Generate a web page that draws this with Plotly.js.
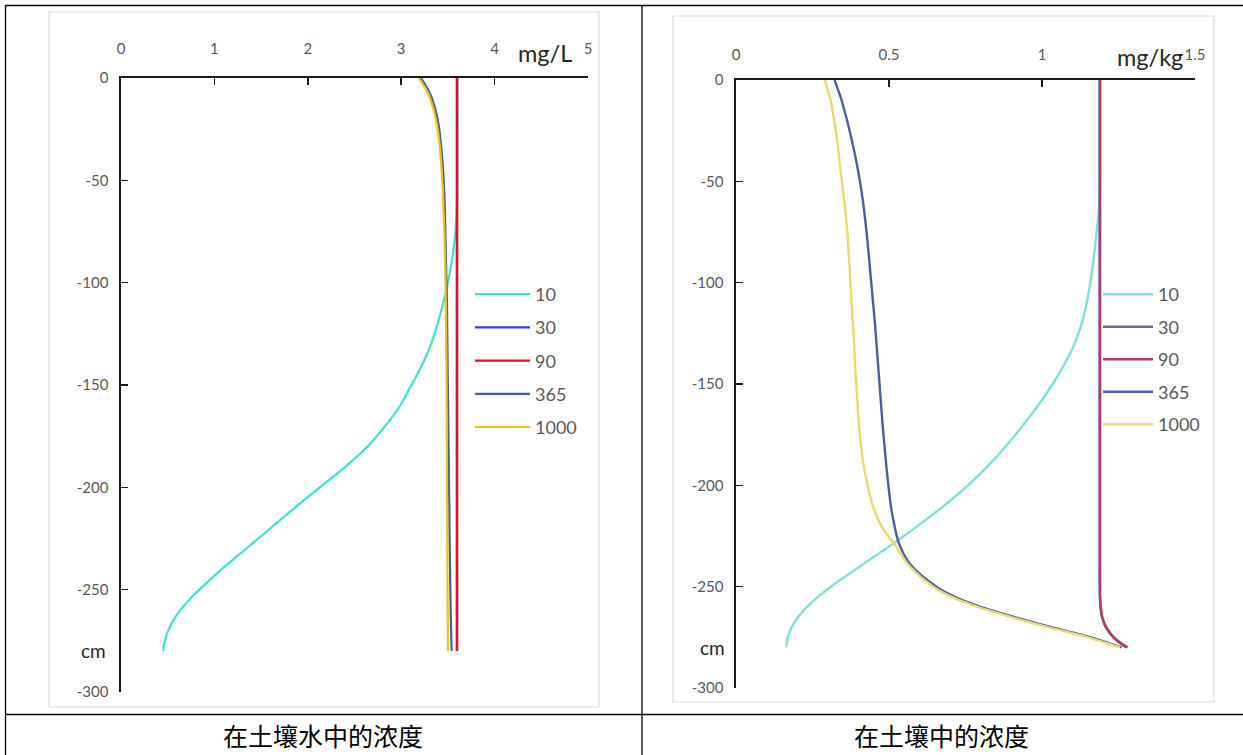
<!DOCTYPE html>
<html>
<head>
<meta charset="utf-8">
<script src="https://cdn.plot.ly/plotly-3.0.1.min.js"></script>
<style>html,body{margin:0;padding:0;background:#fff;}#chart{width:1243px;height:755px;}</style>
</head>
<body>
<div id="chart"></div>
<script>
// ---- data ----
const seriesNames = ["10", "30", "90", "365", "1000"];
const depth = [0, -5, -10, -20, -30, -40, -50, -60, -70, -80, -90, -100, -110, -120, -130, -140, -150,
  -160, -170, -180, -190, -200, -210, -220, -230, -240, -250, -255, -260, -265, -270, -275, -280];

// concentration in soil water (mg/L)
const water10 = [3.6, 3.6, 3.6, 3.6, 3.6, 3.6, 3.6, 3.6, 3.59, 3.57, 3.54, 3.50, 3.45, 3.39, 3.32, 3.225, 3.11,
  2.99, 2.83, 2.64, 2.40, 2.13, 1.86, 1.60, 1.34, 1.08, 0.84, 0.73, 0.635, 0.56, 0.505, 0.47, 0.45];
const water30 = [3.595, 3.595, 3.595, 3.595, 3.595, 3.595, 3.595, 3.595, 3.595, 3.595, 3.595, 3.595, 3.595, 3.595, 3.595, 3.595, 3.595,
  3.595, 3.595, 3.595, 3.595, 3.595, 3.595, 3.595, 3.595, 3.595, 3.595, 3.595, 3.595, 3.595, 3.595, 3.595, 3.595];
const water90 = [3.6, 3.6, 3.6, 3.6, 3.6, 3.6, 3.6, 3.6, 3.6, 3.6, 3.6, 3.6, 3.6, 3.6, 3.6, 3.6, 3.6,
  3.6, 3.6, 3.6, 3.6, 3.6, 3.6, 3.6, 3.6, 3.6, 3.6, 3.6, 3.6, 3.6, 3.6, 3.6, 3.6];
const water365 = [3.21, 3.28, 3.33, 3.39, 3.42, 3.44, 3.455, 3.465, 3.47, 3.475, 3.48, 3.485, 3.49, 3.492, 3.495, 3.497, 3.50,
  3.502, 3.505, 3.507, 3.51, 3.512, 3.515, 3.517, 3.52, 3.523, 3.526, 3.528, 3.53, 3.532, 3.535, 3.537, 3.54];
const water1000 = [3.19, 3.26, 3.31, 3.37, 3.405, 3.425, 3.44, 3.45, 3.458, 3.465, 3.47, 3.475, 3.478, 3.48, 3.482, 3.484, 3.486,
  3.487, 3.488, 3.489, 3.49, 3.491, 3.492, 3.493, 3.494, 3.495, 3.496, 3.497, 3.498, 3.499, 3.50, 3.50, 3.50];

// concentration in soil (mg/kg)
const soil10 = [1.19, 1.19, 1.19, 1.19, 1.19, 1.19, 1.19, 1.188, 1.182, 1.175, 1.167, 1.158, 1.146, 1.13, 1.107, 1.074, 1.035,
  0.99, 0.94, 0.886, 0.826, 0.758, 0.68, 0.594, 0.502, 0.405, 0.31, 0.268, 0.232, 0.203, 0.182, 0.169, 0.164];
const soil30 = [1.188, 1.188, 1.188, 1.188, 1.188, 1.188, 1.188, 1.188, 1.188, 1.188, 1.188, 1.188, 1.188, 1.188, 1.188, 1.188, 1.188,
  1.188, 1.188, 1.188, 1.188, 1.188, 1.188, 1.188, 1.188, 1.188, 1.188, 1.189, 1.191, 1.196, 1.208, 1.233, 1.275];
const soil90 = [1.19, 1.19, 1.19, 1.19, 1.19, 1.19, 1.19, 1.19, 1.19, 1.19, 1.19, 1.19, 1.19, 1.19, 1.19, 1.19, 1.19,
  1.19, 1.19, 1.19, 1.19, 1.19, 1.19, 1.19, 1.19, 1.19, 1.19, 1.19, 1.192, 1.197, 1.21, 1.235, 1.28];
const soil365 = [0.322, 0.334, 0.345, 0.363, 0.379, 0.393, 0.405, 0.415, 0.423, 0.43, 0.436, 0.442, 0.448, 0.454, 0.459, 0.464, 0.469,
  0.474, 0.479, 0.485, 0.491, 0.498, 0.506, 0.518, 0.536, 0.575, 0.655, 0.715, 0.80, 0.91, 1.03, 1.16, 1.26];
const soil1000 = [0.29, 0.30, 0.309, 0.321, 0.331, 0.338, 0.346, 0.354, 0.361, 0.366, 0.37, 0.374, 0.378, 0.382, 0.386, 0.389, 0.393,
  0.397, 0.402, 0.408, 0.417, 0.43, 0.447, 0.475, 0.522, 0.568, 0.645, 0.705, 0.79, 0.90, 1.02, 1.15, 1.255];

const xTicksWater = [0, 1, 2, 3, 4, 5];
const xTicksSoil = [0, 0.5, 1, 1.5];
const yTicks = [0, -50, -100, -150, -200, -250, -300];
const unitWater = "mg/L", unitSoil = "mg/kg", unitDepth = "cm";
const captionWater = "在土壤水中的浓度", captionSoil = "在土壤中的浓度";

// ---- styles ----
const W = 1243, H = 755;
const px = x => x / W, py = y => 1 - y / H;
const colorsWater = ["#40E0D0", "#3B3BDB", "#E3101E", "#44619A", "#F2BF1A"];
const colorsSoil = ["#7FE0DA", "#7A5FA6", "#A8405E", "#4A5EA6", "#EBD86E"];
const waterSeries = [water10, water30, water90, water365, water1000];
const soilSeries = [soil10, soil30, soil90, soil365, soil1000];

const traces = [];
seriesNames.forEach((n, i) => {
  traces.push({x: waterSeries[i], y: depth, name: n, type: "scatter", mode: "lines",
    line: {color: colorsWater[i], width: 2.2, shape: "spline", smoothing: 1.1},
    xaxis: "x", yaxis: "y", legend: "legend", legendgroup: "w" + n});
});
seriesNames.forEach((n, i) => {
  traces.push({x: soilSeries[i], y: depth, name: n, type: "scatter", mode: "lines",
    line: {color: colorsSoil[i], width: 2.4, shape: "spline", smoothing: 1.1},
    xaxis: "x2", yaxis: "y2", legend: "legend2", legendgroup: "s" + n});
});

const tickFont = {family: "Lato, 'Open Sans', sans-serif", size: 15, color: "#595959"};
function xAx(domain, range, ticks, standoff) {
  return {domain: domain, range: range, side: "top", tickvals: ticks, ticktext: ticks.map(String),
    showline: true, linecolor: "#1a1a1a",
    linewidth: 1.6, ticks: "inside", ticklen: 7, tickwidth: 1.6, tickcolor: "#1a1a1a", showgrid: false,
    zeroline: false, tickfont: tickFont, ticklabelstandoff: standoff, fixedrange: true};
}
function yAx(domain, anchor) {
  return {domain: domain, range: [-300, 0], anchor: anchor, tickvals: yTicks, ticktext: yTicks.map(String),
    showline: true, linecolor: "#1a1a1a",
    linewidth: 1.6, ticks: "inside", ticklen: 7, tickwidth: 1.6, tickcolor: "#1a1a1a", showgrid: false,
    zeroline: false, tickfont: tickFont, ticklabelstandoff: 8, fixedrange: true};
}
const legFont = {family: "Lato, 'Open Sans', sans-serif", size: 18, color: "#595959"};
const unitFont = {family: "Lato, 'Open Sans', sans-serif", size: 23.5, color: "#262626"};
const cmFont = {family: "Lato, 'Open Sans', sans-serif", size: 19, color: "#262626"};
const capFont = {family: "'Noto Sans CJK SC', sans-serif", size: 25, color: "#000"};

function ann(text, x, y, font) {
  return {text: text, xref: "paper", yref: "paper", x: px(x), y: py(y), xanchor: "center", yanchor: "middle",
    showarrow: false, font: font};
}

const layout = {
  width: W, height: H, margin: {l: 0, r: 0, t: 0, b: 0}, paper_bgcolor: "#fff", plot_bgcolor: "rgba(0,0,0,0)",
  showlegend: true,
  xaxis: Object.assign(xAx([px(121), px(588)], [0, 5], xTicksWater, 16), {anchor: "y"}),
  yaxis: yAx([py(692), py(78)], "x"),
  xaxis2: Object.assign(xAx([px(736), px(1195)], [0, 1.5], xTicksSoil, 12), {anchor: "y2"}),
  yaxis2: yAx([py(688), py(80)], "x2"),
  legend: {x: px(470), y: py(276), xanchor: "left", yanchor: "top", font: legFont, bgcolor: "rgba(0,0,0,0)",
    tracegroupgap: 6.8, itemwidth: 55},
  legend2: {x: px(1098), y: py(276), xanchor: "left", yanchor: "top", font: legFont, bgcolor: "rgba(0,0,0,0)",
    tracegroupgap: 6.1, itemwidth: 50},
  shapes: [
    {type: "rect", xref: "paper", yref: "paper", x0: px(49), x1: px(599), y0: py(707), y1: py(12), line: {color: "#d9d9d9", width: 1.2}, layer: "below"},
    {type: "rect", xref: "paper", yref: "paper", x0: px(673), x1: px(1214), y0: py(702), y1: py(16), line: {color: "#d9d9d9", width: 1.2}, layer: "below"},
    {type: "line", xref: "paper", yref: "paper", x0: px(5), x1: px(1243), y0: py(5.5), y1: py(5.5), line: {color: "#000", width: 1.3}},
    {type: "line", xref: "paper", yref: "paper", x0: px(5.5), x1: px(5.5), y0: py(5), y1: py(755), line: {color: "#000", width: 1.3}},
    {type: "line", xref: "paper", yref: "paper", x0: px(642), x1: px(642), y0: py(5), y1: py(755), line: {color: "#000", width: 1.3}},
    {type: "line", xref: "paper", yref: "paper", x0: px(5), x1: px(1243), y0: py(714.5), y1: py(714.5), line: {color: "#000", width: 1.3}}
  ],
  annotations: [
    ann(unitWater, 545, 53, unitFont),
    ann(unitSoil, 1150, 57, unitFont),
    ann(unitDepth, 93, 650, cmFont),
    ann(unitDepth, 712, 647, cmFont),
    ann(captionWater, 323, 735, capFont),
    ann(captionSoil, 941, 735, capFont)
  ]
};
Plotly.newPlot("chart", traces, layout, {displayModeBar: false, staticPlot: true});
</script>
</body>
</html>
